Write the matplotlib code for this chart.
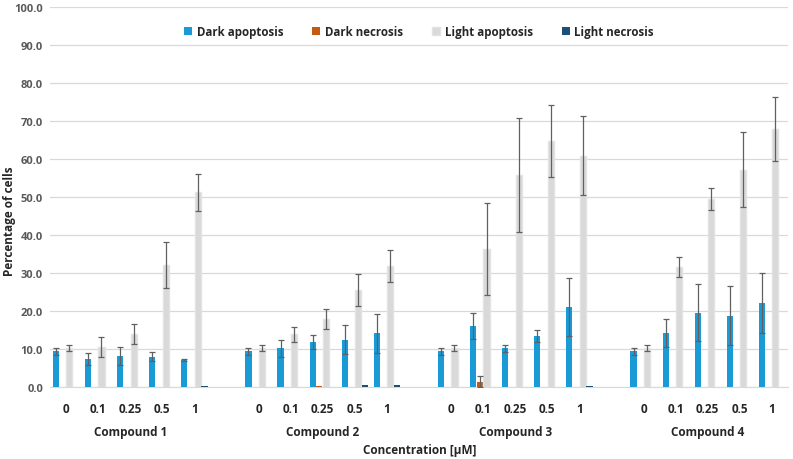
import numpy as np
import matplotlib
matplotlib.use("Agg")
import matplotlib.pyplot as plt
import matplotlib.transforms as mtransforms

compounds = ["Compound 1", "Compound 2", "Compound 3", "Compound 4"]
concentrations = ["0", "0.1", "0.25", "0.5", "1"]
series_names = ["Dark apoptosis", "Dark necrosis", "Light apoptosis", "Light necrosis"]
series_colors = ["#1a9ad6", "#c55a11", "#d9d9d9", "#1f4e79"]

# values per compound (5 concentrations each)
dark_apoptosis = [[9.4, 7.4, 8.2, 8.0, 7.1],
                  [9.4, 10.2, 11.9, 12.5, 14.1],
                  [9.4, 16.1, 10.2, 13.5, 21.0],
                  [9.4, 14.2, 19.6, 18.8, 22.1]]
dark_apoptosis_err = [[0.9, 1.5, 2.3, 1.2, 0.2],
                      [0.9, 2.3, 1.9, 3.9, 5.2],
                      [0.9, 3.4, 0.9, 1.6, 7.7],
                      [0.9, 3.7, 7.6, 7.7, 7.9]]
dark_necrosis = [[0.1, 0.1, 0.1, 0.1, 0.1],
                 [0.1, 0.1, 0.3, 0.1, 0.1],
                 [0.1, 1.4, 0.1, 0.1, 0.1],
                 [0.1, 0.1, 0.1, 0.1, 0.1]]
dark_necrosis_err = [[0, 0, 0, 0, 0],
                     [0, 0, 0, 0, 0],
                     [0, 1.4, 0, 0, 0],
                     [0, 0, 0, 0, 0]]
light_apoptosis = [[10.3, 10.6, 13.9, 32.1, 51.2],
                   [10.3, 13.9, 17.9, 25.6, 31.8],
                   [10.3, 36.3, 55.8, 64.8, 60.9],
                   [10.3, 31.5, 49.5, 57.2, 67.9]]
light_apoptosis_err = [[0.8, 2.6, 2.7, 6.1, 4.8],
                       [0.8, 2.0, 2.6, 4.2, 4.2],
                       [0.8, 12.1, 15.1, 9.5, 10.5],
                       [0.8, 2.6, 3.0, 9.9, 8.5]]
light_necrosis = [[0.1, 0.1, 0.1, 0.1, 0.3],
                  [0.1, 0.1, 0.1, 0.4, 0.4],
                  [0.1, 0.1, 0.1, 0.1, 0.3],
                  [0.1, 0.1, 0.1, 0.1, 0.1]]
light_necrosis_err = [[0, 0, 0, 0, 0],
                      [0, 0, 0, 0, 0],
                      [0, 0, 0, 0, 0],
                      [0, 0, 0, 0, 0]]

FONT = ["Open Sans", "DejaVu Sans"]
plt.rcParams['font.family'] = FONT

fig = plt.figure(figsize=(7.93, 4.6), dpi=100)
ax = fig.add_axes([50/793, 1-388/460, 738/793, 380/460])

n_conc = len(concentrations)
stride = n_conc + 1  # one blank category between compounds
slot = 0.21
bw = 0.19

all_vals = [dark_apoptosis, dark_necrosis, light_apoptosis, light_necrosis]
all_errs = [dark_apoptosis_err, dark_necrosis_err, light_apoptosis_err, light_necrosis_err]

for si, (vals, errs) in enumerate(zip(all_vals, all_errs)):
    for ci in range(len(compounds)):
        xs = np.arange(n_conc) + ci * stride + (si - 1.5) * slot
        v = np.array(vals[ci], dtype=float)
        e = np.array(errs[ci], dtype=float)
        ec = "#e3e3e3" if si == 2 else "none"
        ax.bar(xs, v, width=bw, color=series_colors[si], edgecolor=ec, linewidth=1.0,
               label=series_names[si] if ci == 0 else None, zorder=3)
        mask = e > 0
        ax.errorbar(xs[mask], v[mask], yerr=e[mask], fmt="none", ecolor="#606060",
                    elinewidth=0.9, capsize=2.2, capthick=0.9, zorder=4)

n_cat = stride * len(compounds) - 1
ax.set_xlim(-0.5, n_cat - 0.5)
ax.set_ylim(0, 100)
ax.set_yticks(np.arange(0, 101, 10))
ax.set_yticklabels([f"{t:.1f}" for t in np.arange(0, 101, 10)], fontsize=8,
                   fontweight="bold", color="#595959")
ax.yaxis.grid(True, color="#d9d9d9", linewidth=0.9, zorder=0)
ax.set_axisbelow(True)
ax.tick_params(axis="y", length=0, pad=5)

xt, xl = [], []
for ci in range(len(compounds)):
    for k, c in enumerate(concentrations):
        xt.append(ci * stride + k)
        xl.append(c)
ax.set_xticks(xt)
ax.set_xticklabels(xl, fontsize=8.5, fontweight="bold", color="#262626")
ax.tick_params(axis="x", length=0, pad=11)

for s in ["top", "right", "left"]:
    ax.spines[s].set_visible(False)
ax.spines["bottom"].set_color("#d9d9d9")

trans = mtransforms.blended_transform_factory(ax.transData, fig.transFigure)
for ci, name in enumerate(compounds):
    ax.text(ci * stride + 2, 1 - 433/460, name, transform=trans, ha="center", va="center",
            fontsize=8.5, fontweight="bold", color="#262626")

fig.text(420/793, 1 - 451/460, "Concentration [µM]", ha="center", va="center",
         fontsize=8.5, fontweight="bold", color="#262626")
fig.text(10/793, 1 - 221/460, "Percentage of cells", ha="center", va="center",
         rotation=90, fontsize=8.5, fontweight="bold", color="#262626")

leg = ax.legend(loc="upper center", bbox_to_anchor=(0.5, 1 - 13/380), ncol=4, frameon=True,
                fontsize=8.3, handlelength=0.7, handleheight=0.7, handletextpad=0.4,
                columnspacing=2.5, borderaxespad=0)
leg.get_frame().set_edgecolor("none")
leg.get_frame().set_facecolor("white")
for t in leg.get_texts():
    t.set_fontweight("bold")
    t.set_color("#262626")

fig.savefig("out.png", dpi=100)
